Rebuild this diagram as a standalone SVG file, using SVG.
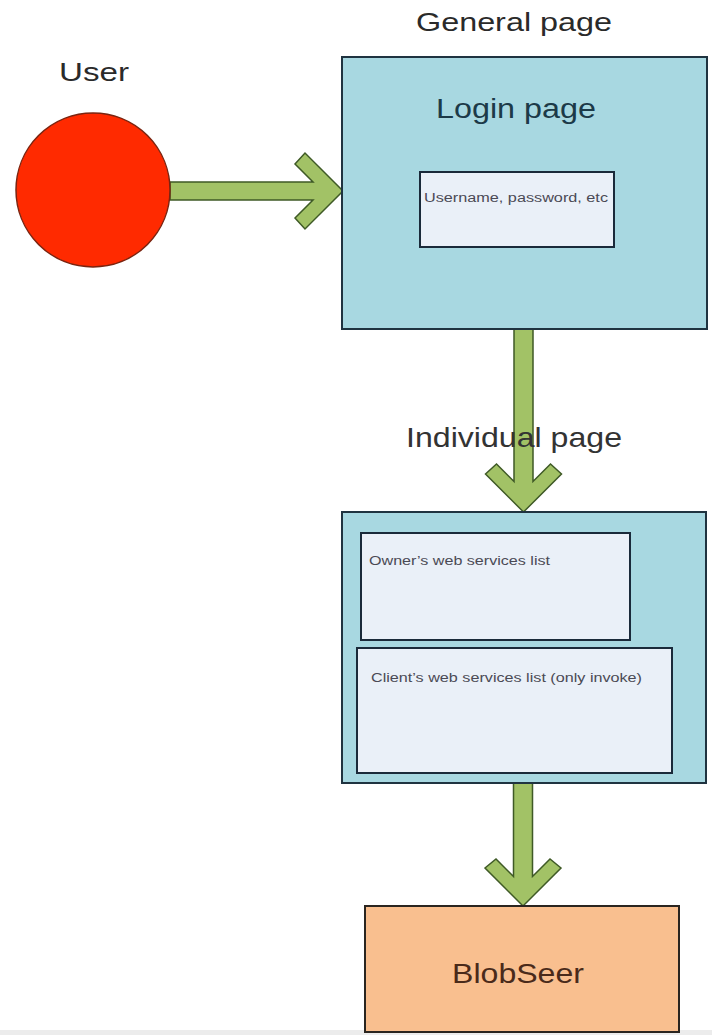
<svg xmlns="http://www.w3.org/2000/svg" width="712" height="1035" viewBox="0 0 712 1035">
<style>
.page{fill:#a8d8e1;stroke:#1f3340;stroke-width:2}
.inner{fill:#eaf0f8;stroke:#1a2a3a;stroke-width:2}
.arrow{fill:#a2c266;stroke:#3f5a26;stroke-width:1.5;stroke-linejoin:miter}
.lbl{font-family:"Liberation Sans",Arial,sans-serif;fill:#2a2a2a}
.small{font-family:"Liberation Sans",Arial,sans-serif;font-size:12px;fill:#4a4a55}
</style>
<rect x="0" y="0" width="712" height="1035" fill="#ffffff"/>
<rect x="0" y="1030" width="712" height="5" fill="#ececec"/>
<g id="connectors">
<polygon class="arrow" points="170,182 313,182 295,164 305,153 343,191 305,229 295,218 313,200 170,200"/>
<polygon class="arrow" points="514,328 533,328 533,481.5 550.5,464 561.5,474 523.5,512 485.5,474 496.5,464 514,481.5"/>
<polygon class="arrow" points="513.5,783 532.5,783 532.5,876.5 550,859 561,868 523,906 485,868 496,859 513.5,876.5"/>
</g>
<g id="user">
<text class="lbl" x="59" y="81" font-size="26" textLength="70" lengthAdjust="spacingAndGlyphs">User</text>
<circle cx="93" cy="190" r="77" fill="#ff2a00" stroke="#7a2410" stroke-width="1.5"/>
</g>
<g id="general-page">
<text class="lbl" x="416" y="31" font-size="26" textLength="196" lengthAdjust="spacingAndGlyphs">General page</text>
<rect class="page" x="342" y="57" width="365" height="272"/>
<text class="lbl" x="436" y="118" font-size="27" fill="#1c3a48" style="fill:#1c3a48" textLength="160" lengthAdjust="spacingAndGlyphs">Login page</text>
</g>
<g id="login-fields">
<rect class="inner" x="420" y="172" width="194" height="75"/>
<text class="small" x="424" y="202" textLength="184" lengthAdjust="spacingAndGlyphs">Username, password, etc</text>
</g>
<g id="individual-page">
<rect class="page" x="342" y="512" width="364" height="271"/>
<text class="lbl" x="406" y="447" font-size="28" style="fill:#333" textLength="216" lengthAdjust="spacingAndGlyphs">Individual page</text>
</g>
<g id="owner-list">
<rect class="inner" x="361" y="533" width="269" height="107"/>
<text class="small" x="369" y="565" textLength="181" lengthAdjust="spacingAndGlyphs">Owner’s web services list</text>
</g>
<g id="client-list">
<rect class="inner" x="357" y="648" width="315" height="125"/>
<text class="small" x="371" y="682" textLength="271" lengthAdjust="spacingAndGlyphs">Client’s web services list (only invoke)</text>
</g>
<g id="blobseer">
<rect x="365" y="906" width="314" height="126" fill="#f9bf8f" stroke="#2a2520" stroke-width="2"/>
<text class="lbl" x="452" y="983" font-size="28" style="fill:#4a2a1a" textLength="132" lengthAdjust="spacingAndGlyphs">BlobSeer</text>
</g>
</svg>
